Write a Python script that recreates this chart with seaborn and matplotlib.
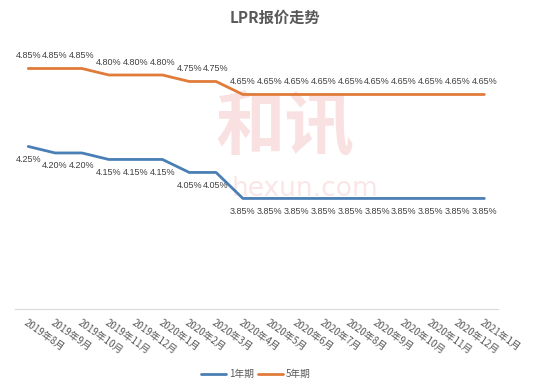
import numpy as np
import pandas as pd
import matplotlib.pyplot as plt
import seaborn as sns

MONTHS = [
    "2019年8月", "2019年9月", "2019年10月", "2019年11月", "2019年12月",
    "2020年1月", "2020年2月", "2020年3月", "2020年4月", "2020年5月",
    "2020年6月", "2020年7月", "2020年8月", "2020年9月", "2020年10月",
    "2020年11月", "2020年12月", "2021年1月",
]
LPR_1Y = [4.25, 4.20, 4.20, 4.15, 4.15, 4.15, 4.05, 4.05, 3.85,
          3.85, 3.85, 3.85, 3.85, 3.85, 3.85, 3.85, 3.85, 3.85]
LPR_5Y = [4.85, 4.85, 4.85, 4.80, 4.80, 4.80, 4.75, 4.75, 4.65,
          4.65, 4.65, 4.65, 4.65, 4.65, 4.65, 4.65, 4.65, 4.65]
SERIES = ["1年期", "5年期"]

BLUE = "#4a7fb5"
ORANGE = "#e07b39"
TEXT = "#404040"

sns.set_style("white")
plt.rcParams["font.family"] = ["Noto Sans CJK SC", "DejaVu Sans"]

pos = np.arange(len(MONTHS))
df = pd.DataFrame({
    "pos": np.concatenate([pos, pos]),
    "rate": LPR_1Y + LPR_5Y,
    "series": [SERIES[0]] * len(MONTHS) + [SERIES[1]] * len(MONTHS),
})

fig = plt.figure(figsize=(5.5, 3.92), dpi=100)
ax = fig.add_axes([0.027, 0.212, 0.878, 0.663])

# faint watermark behind the lines
ax.text(0.56, 0.69, "和讯", transform=ax.transAxes, fontsize=50, fontweight="bold",
        color="#f9e1e1", ha="center", va="center", zorder=0)
ax.text(0.60, 0.46, "hexun.com", transform=ax.transAxes, fontsize=19,
        color="#fae6e6", ha="center", va="center", zorder=0,
        family=["DejaVu Sans"])

sns.lineplot(data=df, x="pos", y="rate", hue="series", hue_order=SERIES,
             palette=[BLUE, ORANGE], linewidth=2, ax=ax, legend=False, zorder=2)

for i, v in enumerate(LPR_1Y):
    ax.annotate(f"{v:.2f}%", (i, v), xytext=(0, -6), textcoords="offset points",
                ha="center", va="top", fontsize=6.5, color=TEXT,
                family=["Liberation Sans"])
for i, v in enumerate(LPR_5Y):
    ax.annotate(f"{v:.2f}%", (i, v), xytext=(0, 6), textcoords="offset points",
                ha="center", va="bottom", fontsize=6.5, color=TEXT,
                family=["Liberation Sans"])

ax.set_xlim(-0.5, len(MONTHS) - 0.5)
ax.set_ylim(3.0, 5.0)
ax.set_yticks([])
ax.set_xlabel("")
ax.set_ylabel("")
ax.set_xticks(pos)
ax.set_xticklabels(MONTHS, rotation=-35, ha="left", va="top",
                   rotation_mode="anchor", fontsize=7, color="#595959")
ax.set_xticks(np.arange(-0.5, len(MONTHS)), minor=True)
ax.tick_params(axis="x", which="major", length=0, pad=6)
ax.tick_params(axis="x", which="minor", length=4, color="#d9d9d9", width=0.8)
for side in ["top", "left", "right"]:
    ax.spines[side].set_visible(False)
ax.spines["bottom"].set_color("#d9d9d9")

fig.text(0.5, 0.955, "LPR报价走势", ha="center", va="center",
         fontsize=11, fontweight="bold", color="#595959")

handles = [plt.Line2D([], [], color=BLUE, lw=2), plt.Line2D([], [], color=ORANGE, lw=2)]
fig.legend(handles, SERIES, loc="center", bbox_to_anchor=(0.465, 0.045), ncol=2,
           frameon=False, fontsize=7, handlelength=2.6, columnspacing=0.4,
           handletextpad=0.3, labelcolor="#595959")

fig.savefig("out.png", dpi=100)
